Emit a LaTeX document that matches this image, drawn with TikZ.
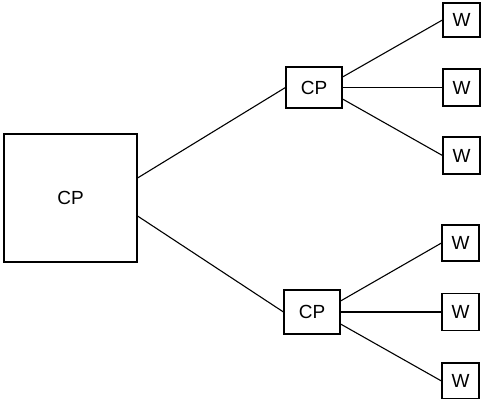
\documentclass[tikz,border=0pt]{standalone}
\usepackage{fontspec}
\setmainfont{Liberation Sans}
\begin{document}
\begin{tikzpicture}[x=1pt,y=-1pt,
  box/.style={draw,line width=1.1pt,inner sep=0pt,font=\fontsize{19}{21}\selectfont},
  wire/.style={line width=1.1pt}]
\useasboundingbox (0,0) rectangle (486,398);
\node[box,minimum width=133pt,minimum height=128pt] (big) at (70.5,198) {CP};
\node[box,minimum width=56pt,minimum height=41pt] (cp1) at (314,87.5) {CP};
\node[box,minimum width=56pt,minimum height=44pt] (cp2) at (312,312) {CP};
\node[box,minimum width=37pt,minimum height=34pt] (w1) at (461.5,20) {W};
\node[box,minimum width=37pt,minimum height=37pt] (w2) at (461.5,87.5) {W};
\node[box,minimum width=37pt,minimum height=37pt] (w3) at (461.5,155.5) {W};
\node[box,minimum width=37pt,minimum height=36pt] (w4) at (460.5,243) {W};
\node[box,minimum width=37pt,minimum height=37pt] (w5) at (460.5,312) {W};
\node[box,minimum width=37pt,minimum height=36pt] (w6) at (460.5,381) {W};
\draw[wire] ([yshift=20pt]big.east) -- (cp1.west);
\draw[wire] ([yshift=-18pt]big.east) -- (cp2.west);
\draw[wire] ([yshift=10.5pt]cp1.east) -- (w1.west);
\draw[wire] (cp1.east) -- (w2.west);
\draw[wire] ([yshift=-11.5pt]cp1.east) -- (w3.west);
\draw[wire] ([yshift=11pt]cp2.east) -- (w4.west);
\draw[wire] (cp2.east) -- (w5.west);
\draw[wire] ([yshift=-12pt]cp2.east) -- (w6.west);
\end{tikzpicture}
\end{document}
